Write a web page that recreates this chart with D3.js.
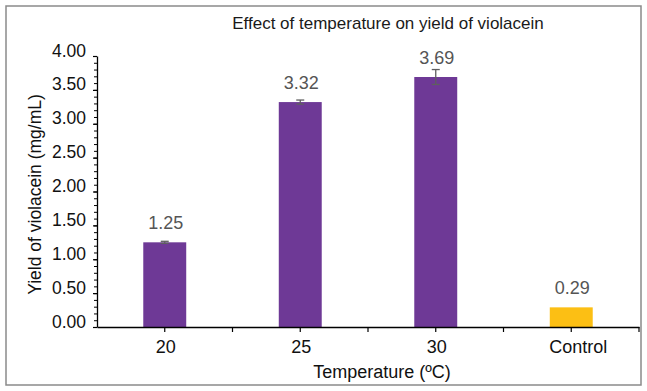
<!DOCTYPE html>
<html>
<head>
<meta charset="utf-8">
<script src="https://cdn.jsdelivr.net/npm/d3@7.9.0/dist/d3.min.js"></script>
<style>
  html, body { margin: 0; padding: 0; background: #fff; }
  svg { display: block; font-family: "Liberation Sans", Arial, sans-serif; }
</style>
</head>
<body>
<svg id="chart" width="647" height="391"></svg>
<script>
// chart data
const categories = ['20', '25', '30', 'Control'];
const yields = [1.25, 3.32, 3.69, 0.29];
const yieldErrors = [0.015, 0.03, 0.11, 0];
const valueLabels = ['1.25', '3.32', '3.69', '0.29'];
const barColors = ['#6e3996', '#6e3996', '#6e3996', '#fcbf14'];
const yTicks = [0, 0.5, 1, 1.5, 2, 2.5, 3, 3.5, 4];

const W = 647, H = 391;
const margin = { left: 97, right: 8, top: 56, bottom: 64 };

const svg = d3.select('#chart');

// outer frame
svg.append('rect')
  .attr('x', 6).attr('y', 6)
  .attr('width', W - 8 - 4).attr('height', H - 8 - 4)
  .attr('fill', 'none')
  .attr('stroke', '#8a8a8a')
  .attr('stroke-width', 1.5);

const x = d3.scaleBand()
  .domain(categories)
  .range([margin.left, W - margin.right])
  .padding(0);

const y = d3.scaleLinear()
  .domain([0, 4])
  .range([H - margin.bottom, margin.top]);

const barW = x.bandwidth() * 0.317;

// bars
svg.selectAll('rect.bar')
  .data(categories)
  .join('rect')
  .attr('class', 'bar')
  .attr('x', (d) => x(d) + x.bandwidth() / 2 - barW / 2)
  .attr('y', (d, i) => y(yields[i]))
  .attr('width', barW)
  .attr('height', (d, i) => y(0) - y(yields[i]))
  .attr('fill', (d, i) => barColors[i]);

// error bars
const errG = svg.append('g')
  .attr('stroke', '#5f5f5f')
  .attr('stroke-width', 1.3);
categories.forEach((c, i) => {
  if (!yieldErrors[i]) return;
  const cx = x(c) + x.bandwidth() / 2;
  const lo = y(yields[i] - yieldErrors[i]);
  const hi = y(yields[i] + yieldErrors[i]);
  errG.append('line').attr('x1', cx).attr('x2', cx).attr('y1', lo).attr('y2', hi);
  errG.append('line').attr('x1', cx - 4).attr('x2', cx + 4).attr('y1', lo).attr('y2', lo);
  errG.append('line').attr('x1', cx - 4).attr('x2', cx + 4).attr('y1', hi).attr('y2', hi);
});

// value labels
svg.selectAll('text.val')
  .data(categories)
  .join('text')
  .attr('class', 'val')
  .attr('x', (d) => x(d) + x.bandwidth() / 2 + 1)
  .attr('y', (d, i) => y(yields[i]) - 13)
  .attr('text-anchor', 'middle')
  .attr('font-size', 18)
  .attr('fill', '#555')
  .text((d, i) => valueLabels[i]);

// y axis: minor ticks every 0.1
const yAxisG = svg.append('g').attr('transform', `translate(${margin.left},0)`);
yAxisG.call(d3.axisLeft(y).ticks(40).tickSize(3).tickFormat(''))
  .call((g) => g.select('.domain').remove());
yAxisG.call((g) => g.selectAll('line').attr('stroke', '#000').attr('stroke-width', 1));
const yMajor = svg.append('g').attr('transform', `translate(${margin.left},0)`);
yMajor.call(d3.axisLeft(y).tickValues(yTicks).tickSize(4).tickSizeOuter(0)
    .tickPadding(8).tickFormat(d3.format('.2f')));
yMajor.select('.domain').attr('stroke', '#000').attr('stroke-width', 1.3);
yMajor.selectAll('line').attr('stroke', '#000').attr('stroke-width', 1.2);
yMajor.selectAll('text')
  .attr('font-size', 17.5)
  .attr('font-family', '"Liberation Sans", Arial, sans-serif')
  .attr('fill', '#111')
  .attr('dy', '0')
  .attr('x', -11);

// x axis: ticks at category centers and boundaries
const xAxisG = svg.append('g').attr('transform', `translate(0,${y(0)})`);
xAxisG.call(d3.axisBottom(x).tickSize(5).tickSizeOuter(0).tickPadding(8));
xAxisG.select('.domain').attr('stroke', '#000').attr('stroke-width', 1.3);
xAxisG.selectAll('line').attr('stroke', '#000').attr('stroke-width', 1.2);
xAxisG.selectAll('text')
  .attr('font-size', 18)
  .attr('font-family', '"Liberation Sans", Arial, sans-serif')
  .attr('fill', '#111')
  .attr('dx', (d) => (d === 'Control' ? 7 : 1));
xAxisG.selectAll('line.edge')
  .data(categories)
  .join('line')
  .attr('class', 'edge')
  .attr('x1', (d) => x(d) + x.bandwidth())
  .attr('x2', (d) => x(d) + x.bandwidth())
  .attr('y1', 0).attr('y2', 5)
  .attr('stroke', '#000').attr('stroke-width', 1.2);

// titles
svg.append('text')
  .attr('x', 388).attr('y', 29)
  .attr('text-anchor', 'middle')
  .attr('font-size', 17)
  .attr('fill', '#1a1a1a')
  .text('Effect of temperature on yield of violacein');

svg.append('text')
  .attr('transform', `translate(41,${(y(0) + y(4)) / 2 + 3}) rotate(-90)`)
  .attr('text-anchor', 'middle')
  .attr('font-size', 17.5)
  .attr('fill', '#111')
  .text('Yield of violacein (mg/mL)');

svg.append('text')
  .attr('x', 382).attr('y', 378)
  .attr('text-anchor', 'middle')
  .attr('font-size', 18)
  .attr('fill', '#111')
  .text('Temperature (ºC)');
</script>
</body>
</html>
